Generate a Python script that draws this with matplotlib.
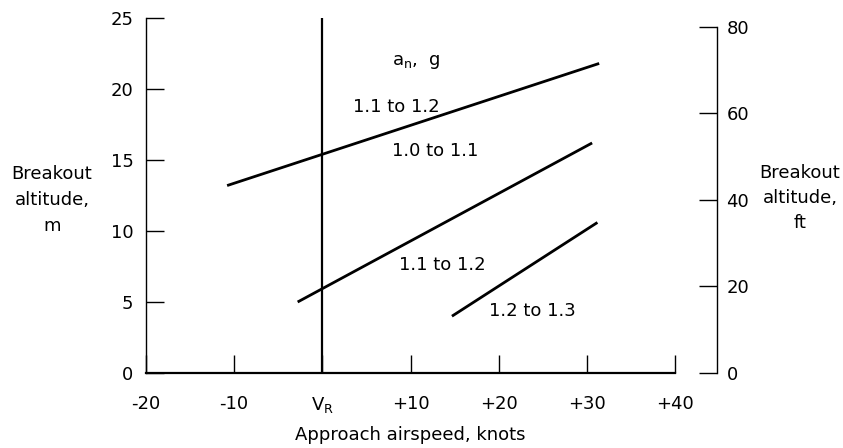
import matplotlib.pyplot as plt

FT_PER_M = 3.2808

speed_ticks = [-20, -10, 0, 10, 20, 30, 40]
speed_labels = ["-20", "-10", r"$\mathrm{V_R}$", "+10", "+20", "+30", "+40"]
alt_m_ticks = [0, 5, 10, 15, 20, 25]
alt_ft_ticks = [0, 20, 40, 60, 80]

# breakout altitude trend lines: approach airspeed (knots re V_R) vs altitude (m)
upper_speed = [-10.8, 31.4]
upper_alt = [13.2, 21.8]
middle_speed = [-2.8, 30.6]
middle_alt = [5.0, 16.2]
lower_speed = [14.7, 31.2]
lower_alt = [4.0, 10.6]

band_labels = ["1.1 to 1.2", "1.0 to 1.1", "1.1 to 1.2", "1.2 to 1.3"]

plt.rcParams["font.size"] = 13

fig = plt.figure(figsize=(8.43, 4.48), dpi=100)
ax = fig.add_axes([146 / 843, 1 - 373 / 448, 529 / 843, 355 / 448])

for xs, ys in [(upper_speed, upper_alt), (middle_speed, middle_alt), (lower_speed, lower_alt)]:
    ax.plot(xs, ys, color="black", lw=2.0, solid_capstyle="butt")
ax.axvline(0, color="black", lw=1.6)

ax.set_xlim(-20, 40)
ax.set_ylim(0, 25)
ax.set_xticks(speed_ticks, speed_labels)
ax.set_yticks(alt_m_ticks)
ax.tick_params(axis="x", direction="in", length=13, width=1.0, pad=16)
ax.tick_params(axis="y", direction="in", length=13, width=1.0, pad=9)
for side in ("top", "right"):
    ax.spines[side].set_visible(False)
ax.spines["left"].set_linewidth(1.0)
ax.spines["bottom"].set_linewidth(1.6)

# band annotations (load factor ranges)
ax.text(10.7, 21.9, r"$\mathrm{a_n}$,  g", ha="center", va="center")
ax.text(8.4, 18.7, band_labels[0], ha="center", va="center")
ax.text(12.8, 15.6, band_labels[1], ha="center", va="center")
ax.text(13.6, 7.6, band_labels[2], ha="center", va="center")
ax.text(23.8, 4.4, band_labels[3], ha="center", va="center")

ax.set_xlabel("Approach airspeed, knots")
ax.xaxis.set_label_coords(0.5, -0.15)

# feet scale on a detached right-hand axis
ax2 = ax.twinx()
ax2.set_ylim(0, 25 * FT_PER_M)
ax2.set_yticks(alt_ft_ticks)
ax2.spines["right"].set_position(("outward", 30))
ax2.spines["right"].set_bounds(0, 80)
ax2.spines["right"].set_linewidth(1.0)
for side in ("top", "left", "bottom"):
    ax2.spines[side].set_visible(False)
ax2.tick_params(axis="y", direction="in", length=13, width=1.0, pad=7)

fig.text(52 / 843, 1 - 200 / 448, "Breakout\naltitude,\nm", ha="center", va="center",
         linespacing=1.6)
fig.text(800 / 843, 1 - 198 / 448, "Breakout\naltitude,\nft", ha="center", va="center",
         linespacing=1.5)

fig.savefig("out.png", dpi=100)
